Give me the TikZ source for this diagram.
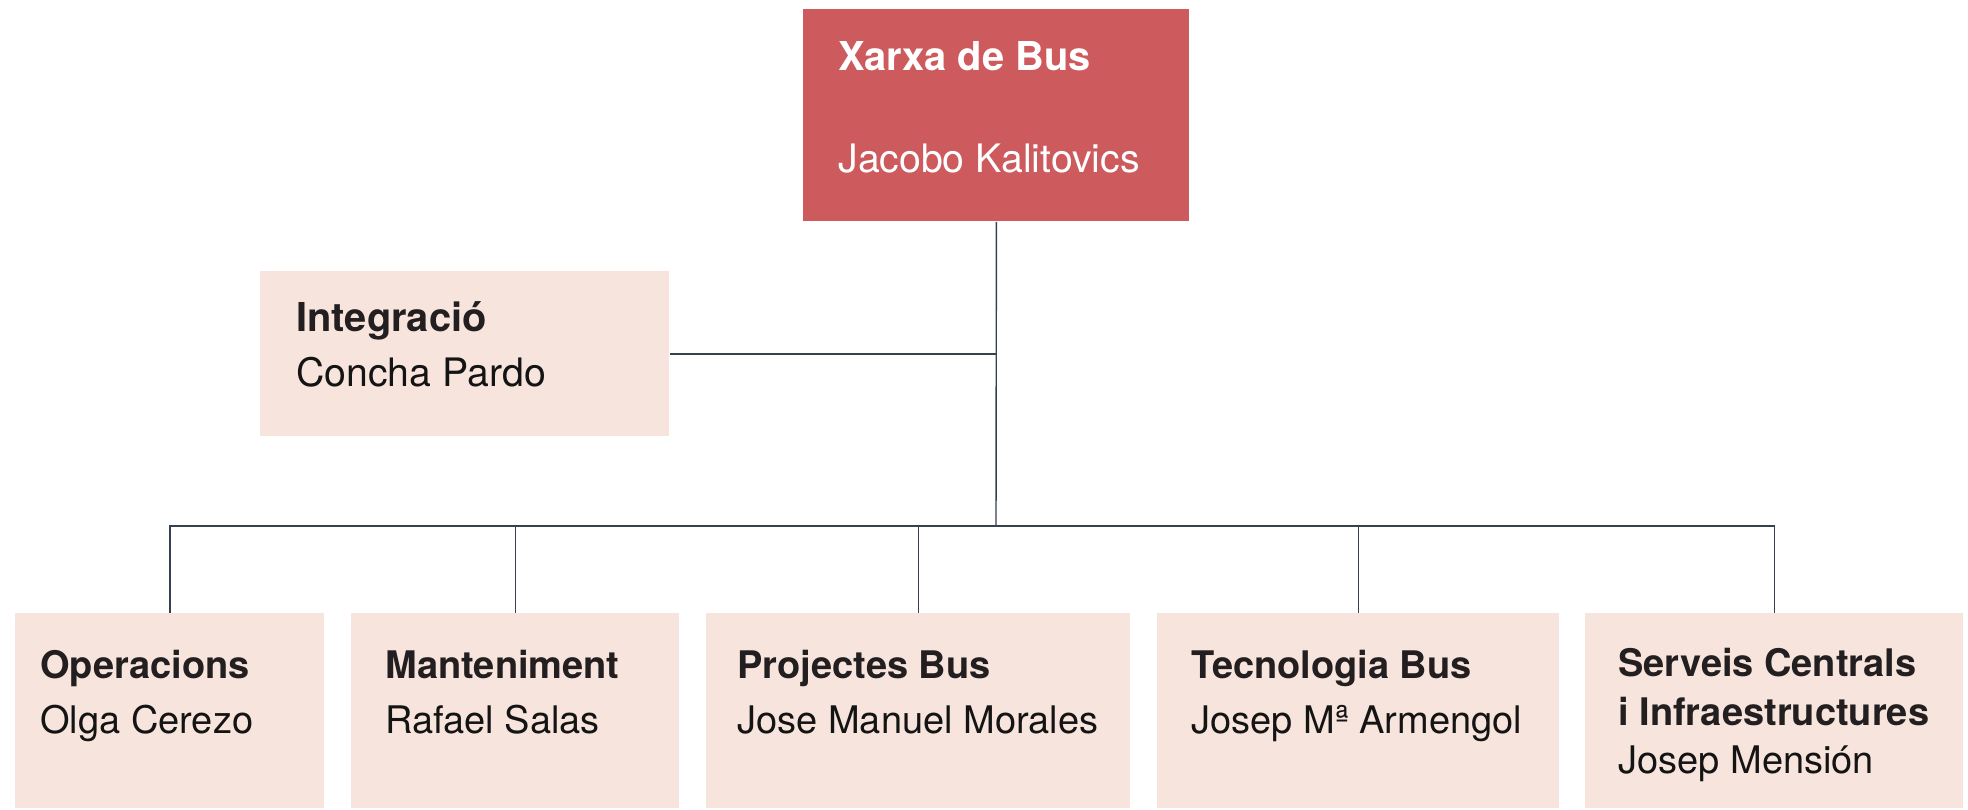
\documentclass[tikz,border=0pt]{standalone}
\usepackage{fontspec}
\setmainfont{TeX Gyre Heros}
\definecolor{topred}{HTML}{CD5B5E}
\definecolor{lightbox}{HTML}{F7E5DD}
\definecolor{linecol}{HTML}{36414F}
\definecolor{headcol}{HTML}{231F20}
\definecolor{namecol}{HTML}{141414}
\begin{document}
\begin{tikzpicture}[x=0.5pt,y=-0.5pt,
  boxbase/.style={rectangle, draw=none, inner sep=0pt, anchor=north west},
  topbox/.style={boxbase, fill=topred},
  subbox/.style={boxbase, fill=lightbox},
  headtxt/.style={inner sep=0pt, anchor=base west, font=\fontsize{19}{23}\selectfont\bfseries, text=headcol},
  nametxt/.style={inner sep=0pt, anchor=base west, font=\fontsize{19}{23}\selectfont, text=namecol},
  bighead/.style={headtxt, font=\fontsize{19.9}{24}\selectfont\bfseries},
  bigname/.style={nametxt, font=\fontsize{19.6}{24}\selectfont},
  tophead/.style={bighead, text=white},
  topname/.style={bigname, text=white},
  conn/.style={draw=linecol, line width=0.7pt}
]
\useasboundingbox (0,0) rectangle (1968,809);
\fill[white] (0,0) rectangle (1968,809);

% boxes
\node[topbox, minimum width=193pt, minimum height=106pt] (top) at (803,9) {};
\node[subbox, minimum width=204.5pt, minimum height=82.5pt] (integ) at (260,271) {};
\node[subbox, minimum width=154.5pt, minimum height=97.5pt] (b1) at (15,613) {};
\node[subbox, minimum width=164pt, minimum height=97.5pt] (b2) at (351,613) {};
\node[subbox, minimum width=212pt, minimum height=97.5pt] (b3) at (706,613) {};
\node[subbox, minimum width=201pt, minimum height=97.5pt] (b4) at (1157,613) {};
\node[subbox, minimum width=189pt, minimum height=97.5pt] (b5) at (1585,613) {};

% connectors
\coordinate (bus) at (996,526);
\draw[conn] (top.south) -- (bus);
\draw[conn] (integ.east) -- (integ.east -| top.south);
\draw[conn] (b1.north) |- (bus) -| (b5.north);
\draw[conn] (b2.north) -- (b2.north |- bus);
\draw[conn] (b3.north) -- (b3.north |- bus);
\draw[conn] (b4.north) -- (b4.north |- bus);

% texts
\node[tophead] (t0a) at (838,70) {Xarxa de Bus};
\node[topname] (t0b) at (838,172) {Jacobo Kalitovics};
\node[bighead] (tia) at (296,331) {Integració};
\node[bigname] (tib) at (296,386) {Concha Pardo};
\node[headtxt] (t1a) at (40,678) {Operacions};
\node[nametxt] (t1b) at (40,733) {Olga Cerezo};
\node[headtxt] (t2a) at (385,678) {Manteniment};
\node[nametxt] (t2b) at (385,733) {Rafael Salas};
\node[headtxt] (t3a) at (737,678) {Projectes Bus};
\node[nametxt] (t3b) at (737,733) {Jose Manuel Morales};
\node[headtxt] (t4a) at (1191,678) {Tecnologia Bus};
\node[nametxt] (t4b) at (1191,733) {Josep Mª Armengol};
\node[headtxt] (t5a) at (1618,676) {Serveis Centrals};
\node[headtxt] (t5b) at (1618,725) {i Infraestructures};
\node[nametxt] (t5c) at (1618,773) {Josep Mensión};
\end{tikzpicture}
\end{document}
